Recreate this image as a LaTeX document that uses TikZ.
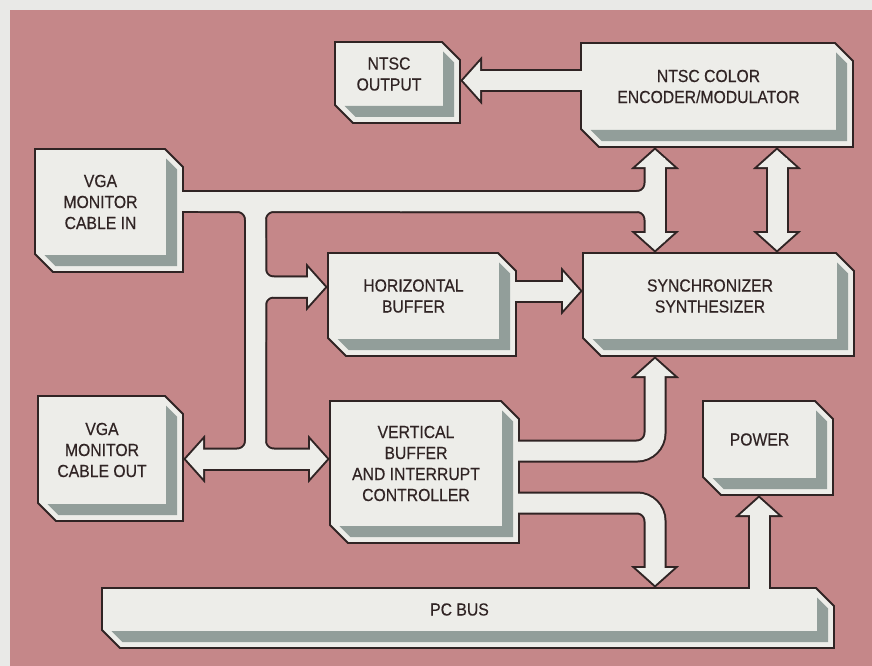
\documentclass[tikz,border=0pt]{standalone}
\usepackage{fontspec}
\setmainfont{Liberation Sans}[FakeStretch=0.9,FakeBold=0.4]
\usepackage{xcolor}
\definecolor{rose}{RGB}{197,135,137}
\definecolor{paper}{RGB}{237,237,233}
\definecolor{slate}{RGB}{146,158,154}
\definecolor{ink}{RGB}{48,36,36}
\definecolor{rim}{RGB}{233,233,231}

% chamfer, shade gap, shade width, diagonal offset
\newcommand{\cham}{18}
\newcommand{\gm}{6}
\newcommand{\gw}{11}
\newcommand{\gd}{8.5}

% one block: name, left, top, right, bottom, text
\newcommand{\slabbox}[6]{%
  \filldraw[slabedge] (#2,#3) -- ({#4-\cham},#3) -- (#4,{#3+\cham}) -- (#4,#5)
     -- ({#2+\cham},#5) -- (#2,{#5-\cham}) -- cycle;
  \fill[slate] ({#4-\gm-\gw},{#3+\cham+\gd-\gm-\gw}) -- ({#4-\gm},{#3+\cham+\gd-\gm})
     -- ({#4-\gm},{#5-\gm}) -- ({#2+\cham+\gd-\gm},{#5-\gm})
     -- ({#2+\cham+\gd-\gm-\gw},{#5-\gm-\gw}) -- ({#4-\gm-\gw},{#5-\gm-\gw}) -- cycle;
  \coordinate (#1-nw) at (#2,#3);
  \coordinate (#1-se) at (#4,#5);
  \node[slabtext] (#1) at ({(#2+#4-\gm-\gw)/2},{(#3+#5-\gm-\gw)/2}) {#6};
}

% all the fat arrows: band style, head style
\newcommand{\busnet}[2]{%
  % VGA bus, straight runs
  \draw[#1] (vgain-se |- 0,201.5) -- (655,201.5);
  \draw[#1] (255.5,201.5) -- (255.5,459);
  \draw[#1] (200,459) -- (313,459);
  \draw[#1] (655,160) -- (655,240);
  % VGA bus, rounded joints
  \draw[#1] (200,201.5) -- (255.5,201.5) -- (255.5,300);
  \draw[#1] (400,201.5) -- (255.5,201.5) -- (255.5,300);
  \draw[#1] (655,160) -- (655,201.5) -- (400,201.5);
  \draw[#1] (655,240) -- (655,201.5) -- (400,201.5);
  \draw[#1] (255.5,300) -- (255.5,459) -- (200,459);
  \draw[#1] (255.5,300) -- (255.5,459) -- (313,459);
  \draw[#1] (255.5,240) -- (255.5,287) -- (311,287);
  \draw[#1] (255.5,340) -- (255.5,287) -- (311,287);
  % the other links
  \draw[#1] (777,160) -- (777,240);
  \draw[#1] (ntscenc-nw |- 0,80.5) -- (478,80.5);
  \draw[#1] (hbuf-se |- 0,291) -- (566,291);
  \draw[#1] (vbuf-se |- 0,451) -- (655,451) -- (655,373);
  \draw[#1] (vbuf-se |- 0,503) -- (655,503) -- (655,571);
  \draw[#1] (759,0 |- pcbus-nw) -- (759,512);
  \foreach \x/\y/\a in {460/80.5/180, 655/147/90, 655/253/-90, 777/147/90, 777/253/-90,
      583/291/0, 328/287/0, 183/459/180, 330/459/0, 655/356/90, 655/588/-90, 759/495/90}
    \path[#2,shift={(\x,\y)},rotate=\a] (-3,0) -- (-20,-19) -- (-20,19) -- cycle;
}

\begin{document}
\begin{tikzpicture}
        [
            x=1pt,y=-1pt,
            slabedge/.style={fill=paper,draw=ink,line width=1.8pt},
            slabtext/.style={align=center,text=ink,inner sep=0pt,
                             font=\fontsize{17.5}{21}\selectfont},
            rimpipe/.style={draw=ink,line width=23pt,rounded corners=18pt},
            corepipe/.style={draw=paper,line width=19pt,rounded corners=18pt,shorten <=-2pt},
            rimhead/.style={fill=ink,draw=ink,line width=4pt},
            corehead/.style={fill=paper},
        ]
    \useasboundingbox (0,0) rectangle (872,666);
    \fill[rim] (0,0) rectangle (872,666);
    \fill[rose] (10,10) rectangle (872,666);

    \coordinate (vgain-se) at (183,272);
    \coordinate (ntscenc-nw) at (581,43);
    \coordinate (hbuf-se) at (516,356);
    \coordinate (vbuf-se) at (519,543);
    \coordinate (pcbus-nw) at (102,588);

    \busnet{rimpipe}{rimhead}

    \slabbox{ntscout}{335}{42}{460}{123}{NTSC\\OUTPUT}
    \slabbox{ntscenc}{581}{43}{853}{147}{NTSC COLOR\\ENCODER/MODULATOR}
    \slabbox{vgain}{35}{149}{183}{272}{VGA\\MONITOR\\CABLE IN}
    \slabbox{hbuf}{328}{253}{516}{356}{HORIZONTAL\\BUFFER}
    \slabbox{sync}{583}{253}{854}{356}{SYNCHRONIZER\\SYNTHESIZER}
    \slabbox{vgaout}{38}{396}{183}{521}{VGA\\MONITOR\\CABLE OUT}
    \slabbox{vbuf}{330}{401}{519}{543}{VERTICAL\\BUFFER\\AND INTERRUPT\\CONTROLLER}
    \slabbox{power}{703}{401}{833}{495}{POWER}
    \slabbox{pcbus}{102}{588}{834}{648}{PC BUS}

    \busnet{corepipe}{corehead}
\end{tikzpicture}
\end{document}
